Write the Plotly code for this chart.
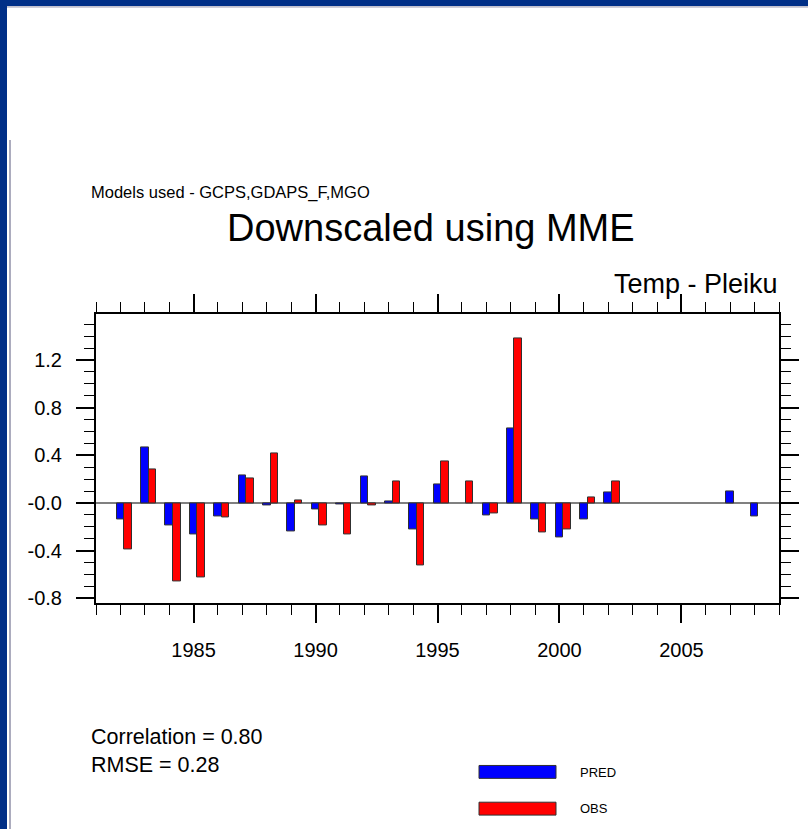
import plotly.graph_objects as go

W, H = 808, 835

years = list(range(1982, 2009))
pred = [-0.14, 0.47, -0.19, -0.26, -0.11, 0.23, -0.02, -0.24, -0.05, -0.01,
        0.22, 0.01, -0.22, 0.16, None, -0.10, 0.63, -0.14, -0.29, -0.14,
        0.09, None, None, None, None, 0.10, -0.11]
obs = [-0.39, 0.28, -0.66, -0.62, -0.12, 0.21, 0.42, 0.02, -0.19, -0.26,
       -0.02, 0.18, -0.52, 0.35, 0.18, -0.09, 1.38, -0.25, -0.22, 0.05,
       0.18, None, None, None, None, None, None]

ytick_vals = [-0.8, -0.4, 0.0, 0.4, 0.8, 1.2]
ytick_text = ["-0.8", "-0.4", "-0.0", "0.4", "0.8", "1.2"]
xtick_vals = [1985, 1990, 1995, 2000, 2005]
xtick_text = ["1985", "1990", "1995", "2000", "2005"]

FONT = "Liberation Sans, Arial, Helvetica, sans-serif"


def px(x):
    return x / W


def py(y):
    return 1 - y / H


fig = go.Figure()
fig.add_trace(go.Bar(x=years, y=pred, name="PRED", width=0.31, offset=-0.155,
                     marker=dict(color="#0000ff", line=dict(color="#303030", width=1)),
                     showlegend=False))
fig.add_trace(go.Bar(x=years, y=obs, name="OBS", width=0.31, offset=0.155,
                     marker=dict(color="#ff0000", line=dict(color="#303030", width=1)),
                     showlegend=False))

axis_common = dict(showline=True, linecolor="black", linewidth=2, mirror="ticks",
                   ticks="outside", tickcolor="black", tickwidth=2, ticklen=18,
                   showgrid=False, tickfont=dict(family=FONT, size=20, color="black"))

fig.update_xaxes(range=[1981, 2009], tickvals=xtick_vals, ticktext=xtick_text,
                 minor=dict(dtick=1, tick0=1981, ticks="outside", ticklen=10,
                            tickwidth=1, tickcolor="black", showgrid=False),
                 ticklabelstandoff=10,
                 zeroline=False, domain=[px(96), px(779)], **axis_common)
fig.update_yaxes(range=[-0.838, 1.583], tickvals=ytick_vals, ticktext=ytick_text,
                 minor=dict(dtick=0.1, tick0=0, ticks="outside", ticklen=10,
                            tickwidth=1, tickcolor="black", showgrid=False),
                 ticklabelstandoff=10,
                 zeroline=True, zerolinecolor="#808080", zerolinewidth=1.5,
                 domain=[py(607.3), py(316.7)], **axis_common)

shapes = [
    # window frame
    dict(type="rect", xref="paper", yref="paper", x0=0, x1=1, y0=py(6), y1=1,
         fillcolor="#002f87", line=dict(width=0), layer="above"),
    dict(type="rect", xref="paper", yref="paper", x0=0, x1=px(7), y0=0, y1=1,
         fillcolor="#002f87", line=dict(width=0), layer="above"),
    dict(type="line", xref="paper", yref="paper", x0=px(7), x1=1, y0=py(7), y1=py(7),
         line=dict(color="#9090a8", width=1)),
    dict(type="line", xref="paper", yref="paper", x0=px(10), x1=px(10), y0=0, y1=py(141),
         line=dict(color="#9090a8", width=1.5)),
    # legend swatches
    dict(type="rect", xref="paper", yref="paper", x0=px(479), x1=px(556), y0=py(784), y1=py(771),
         fillcolor="#0000ff", line=dict(color="#303030", width=1)),
    dict(type="rect", xref="paper", yref="paper", x0=px(479), x1=px(556), y0=py(821), y1=py(808),
         fillcolor="#ff0000", line=dict(color="#303030", width=1)),
]

annotations = [
    dict(text="Models used - GCPS,GDAPS_F,MGO", x=px(89), y=py(194), xanchor="left",
         yanchor="middle", font=dict(family=FONT, size=16.5, color="black")),
    dict(text="Downscaled using MME", x=px(431), y=py(230), xanchor="center",
         yanchor="middle", font=dict(family=FONT, size=38, color="black")),
    dict(text="Temp - Pleiku", x=px(780), y=py(286), xanchor="right",
         yanchor="middle", font=dict(family=FONT, size=27, color="black")),
    dict(text="Correlation = 0.80<br>RMSE = 0.28", x=px(89), y=py(756), xanchor="left",
         yanchor="middle", align="left", font=dict(family=FONT, size=21.5, color="black")),
    dict(text="PRED", x=px(578), y=py(778), xanchor="left", yanchor="middle",
         font=dict(family=FONT, size=13, color="black")),
    dict(text="OBS", x=px(578), y=py(814), xanchor="left", yanchor="middle",
         font=dict(family=FONT, size=13, color="black")),
]
for a in annotations:
    a.update(xref="paper", yref="paper", showarrow=False)

fig.update_layout(width=W, height=H, margin=dict(l=0, r=0, t=0, b=0),
                  paper_bgcolor="white", plot_bgcolor="white", barmode="overlay",
                  shapes=shapes, annotations=annotations, bargap=0)

fig.write_html("out.html", config={"displayModeBar": False},
               post_script="document.documentElement.style.margin='0';"
                           "document.body.style.margin='0';document.body.style.padding='0';"
                           "document.body.style.height='835px';"
                           "document.documentElement.style.overflow='hidden';"
                           "document.body.style.overflow='hidden';")
